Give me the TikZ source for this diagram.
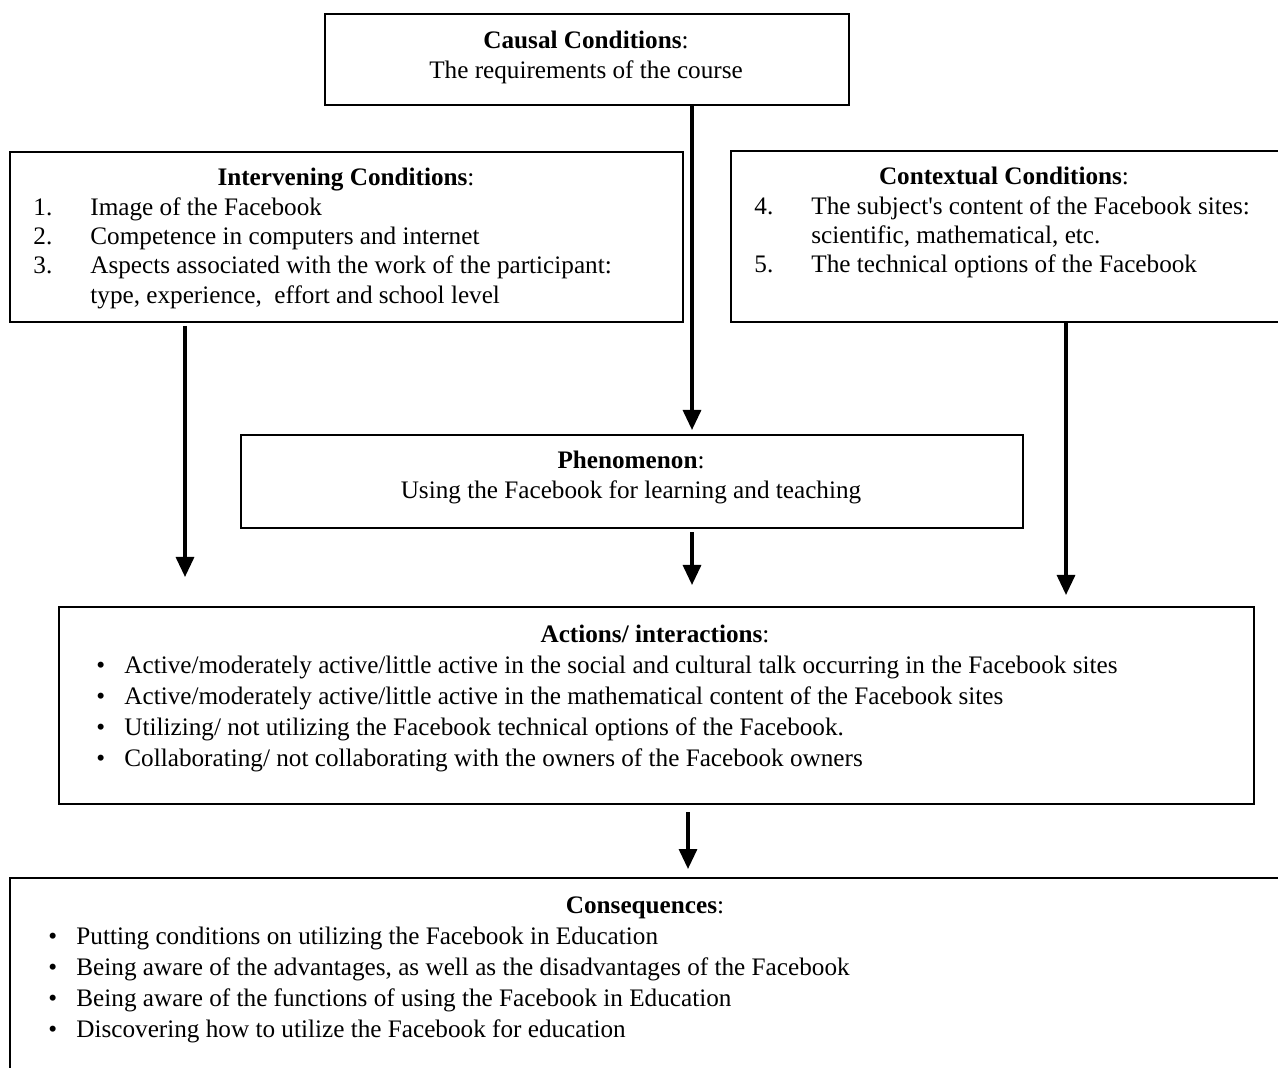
\documentclass[tikz,border=0pt]{standalone}
\usepackage{fontspec}
\setmainfont{Liberation Serif}
\usetikzlibrary{arrows.meta}
\begin{document}
\begin{tikzpicture}[x=0.5pt,y=-0.5pt,
  box/.style={draw, line width=1.1pt, inner sep=0pt, anchor=north west},
  txt/.style={anchor=base west, inner sep=0pt, font=\fontsize{12.6}{15}\selectfont},
  ttl/.style={anchor=base, inner sep=0pt, font=\fontsize{12.6}{15}\selectfont},
  arr/.style={line width=1.6pt, -{Triangle[length=10pt,width=9pt]}}]
\useasboundingbox (0,0) rectangle (1278,1068);
\clip (0,0) rectangle (1278,1068);
% boxes
\node[box, minimum width=262pt, minimum height=45.5pt] (causal) at (324,13) {};
\node[box, minimum width=336.5pt, minimum height=85pt] (inter) at (9,151) {};
\node[box, minimum width=280pt, minimum height=85.5pt] (context) at (730,150) {};
\node[box, minimum width=391pt, minimum height=46.5pt] (phen) at (240,434) {};
\node[box, minimum width=597.5pt, minimum height=98.5pt] (act) at (58,606) {};
\node[box, minimum width=640.5pt, minimum height=111.5pt] (cons) at (9,877) {};
% causal text
\node[ttl] (ct) at (586,49) {\textbf{Causal Conditions}:};
\node[ttl] (c1) at (586,79) {The requirements of the course};
% intervening
\node[ttl] (it) at (346,186) {\textbf{Intervening Conditions}:};
\node[txt] (in1) at (33,216) {1.};
\node[txt] (i1) at (90,216) {Image of the Facebook};
\node[txt] (in2) at (33,245) {2.};
\node[txt] (i2) at (90,245) {Competence in computers and internet};
\node[txt] (in3) at (33,274) {3.};
\node[txt] (i3) at (90,274) {Aspects associated with the work of the participant:};
\node[txt] (i3b) at (90,304) {type, experience,\ \ effort and school level};
% contextual
\node[ttl] (xt) at (1004,185) {\textbf{Contextual Conditions}:};
\node[txt] (xn4) at (754,215) {4.};
\node[txt] (x4) at (811,215) {The subject\textquotesingle s content of the Facebook sites:};
\node[txt] (x4b) at (811,244) {scientific, mathematical, etc.};
\node[txt] (xn5) at (754,273) {5.};
\node[txt] (x5) at (811,273) {The technical options of the Facebook};
% phenomenon
\node[ttl] (pt) at (631,469) {\textbf{Phenomenon}:};
\node[ttl] (p1) at (631,499) {Using the Facebook for learning and teaching};
% actions
\node[ttl] (at) at (655,642) {\textbf{Actions/ interactions}:};
\foreach \yy/\tt [count=\k] in {673/{Active/moderately active/little active in the social and cultural talk occurring in the Facebook sites},
  704/{Active/moderately active/little active in the mathematical content of the Facebook sites},
  735/{Utilizing/ not utilizing the Facebook technical options of the Facebook.},
  766/{Collaborating/ not collaborating with the owners of the Facebook owners}}{
  \node[txt] (ab\k) at (96,\yy) {\textbullet};
  \node[txt] (a\k) at (124,\yy) {\tt};
}
% consequences
\node[ttl] (qt) at (645,913) {\textbf{Consequences}:};
\foreach \yy/\tt [count=\k] in {944/{Putting conditions on utilizing the Facebook in Education},
  975/{Being aware of the advantages, as well as the disadvantages of the Facebook},
  1006/{Being aware of the functions of using the Facebook in Education},
  1037/{Discovering how to utilize the Facebook for education}}{
  \node[txt] (qb\k) at (48,\yy) {\textbullet};
  \node[txt] (q\k) at (76,\yy) {\tt};
}
% arrows
\coordinate (e1) at (692,430);
\coordinate (s2) at (185,326);
\coordinate (e2) at (185,577);
\coordinate (e3) at (692,585);
\coordinate (e4) at (1066,595);
\coordinate (s5) at (688,812);
\coordinate (e5) at (688,869);
\draw[arr] (causal.south -| e1) -- (e1);
\draw[arr] (s2) -- (e2);
\draw[arr] (phen.south -| e3) ++(0,3) -- (e3);
\draw[arr] (context.south -| e4) -- (e4);
\draw[arr] (s5) -- (e5);
\end{tikzpicture}
\end{document}
